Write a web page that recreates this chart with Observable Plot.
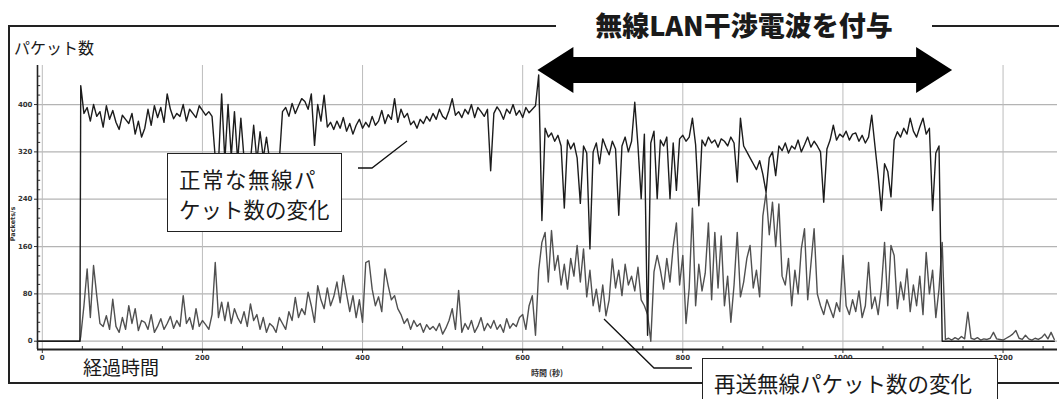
<!DOCTYPE html>
<html><head><meta charset="utf-8">
<script src="https://cdn.jsdelivr.net/npm/d3@7"></script>
<script src="https://cdn.jsdelivr.net/npm/@observablehq/plot@0.6"></script>
<style>
html,body{margin:0;padding:0;background:#fff;}
#wrap{position:relative;width:1059px;height:399px;overflow:hidden;background:#fff;font-family:"Noto Sans CJK JP","Noto Sans",sans-serif;color:#1a1a1a;}
#chart{position:absolute;left:0;top:0;}
.abs{position:absolute;box-sizing:border-box;white-space:nowrap;}
#frame{left:8px;top:25px;width:1100px;height:359px;border:2px solid #222;}
#title{left:556px;top:6px;width:376px;height:38px;background:#fff;text-align:center;font-weight:900;font-size:27px;line-height:38px;}
#ylab{left:14px;top:37px;font-size:16px;line-height:20px;}
#xlab{left:83px;top:355px;font-size:19px;line-height:24px;}
#box1{left:167px;top:153px;width:175px;height:79px;border:1.5px solid #222;background:#fff;font-size:21.5px;line-height:30px;padding:10px 0 0 11px;}
#box1 .l1{letter-spacing:1.5px;}
#box2{left:702px;top:358px;width:296px;height:60px;border:1.5px solid #222;background:#fff;font-size:21.5px;line-height:30px;padding:9px 0 0 11px;}
#over{position:absolute;left:0;top:0;}
</style></head>
<body>
<div id="wrap">
  <div id="chart"></div>
  <div id="frame" class="abs"></div>
  <svg id="over" width="1059" height="399"></svg>
  <div id="title" class="abs">無線LAN干渉電波を付与</div>
  <div id="ylab" class="abs">パケット数</div>
  <div id="xlab" class="abs">経過時間</div>
  <div id="box1" class="abs"><span class="l1">正常な無線パ</span><br>ケット数の変化</div>
  <div id="box2" class="abs">再送無線パケット数の変化</div>
</div>
<script>
// ---- data ----
const timeStart = 48;      // seconds, first sample after start of traffic
const timeStep = 4;        // seconds between samples
const leadTimes = [-6, 47];          // idle period (both series 0)
const leadValues = [0, 0];
const normalPackets = [
  432,385,395,372,400,380,388,362,398,375,
  390,370,358,382,375,368,385,350,372,345,
  360,392,365,398,378,395,370,418,392,376,
  385,380,400,372,392,385,378,398,390,382,
  388,380,310,300,418,305,400,312,388,305,
  377,308,312,305,365,305,354,310,345,305,
  300,310,305,388,395,380,402,385,398,410,
  405,392,418,331,400,372,416,362,370,358,
  372,360,378,355,368,350,365,375,360,370,
  362,380,365,372,390,368,383,375,410,370,
  392,378,385,366,372,360,375,368,380,372,
  385,375,392,380,375,390,410,382,388,378,
  392,384,400,378,395,388,380,392,288,385,
  396,388,375,392,385,400,382,390,378,395,
  386,392,398,450,204,360,345,352,338,348,
  330,225,340,325,335,310,233,330,318,156,
  320,335,300,342,328,315,338,325,213,330,
  345,320,338,404,330,241,350,10,335,355,
  241,340,330,345,241,335,255,342,348,338,
  345,377,332,229,340,330,345,335,340,328,
  342,338,330,345,335,269,377,330,320,310,
  300,290,305,282,252,310,320,280,330,322,
  335,318,330,325,340,320,332,345,328,338,
  330,320,235,325,340,365,340,350,345,355,
  340,350,352,338,348,335,345,382,330,280,
  221,300,287,244,340,354,345,360,350,377,
  355,345,362,377,350,360,221,318,330,0
];
const normalEnd = [1264, 0];
const retransPackets = [
  8,60,122,40,128,77,30,25,43,20,
  71,25,15,40,20,60,30,55,18,35,
  32,20,45,15,25,38,20,30,42,22,
  35,25,77,30,40,20,55,25,35,28,
  20,45,133,40,66,35,66,30,55,40,
  30,50,25,63,35,45,20,40,15,30,
  25,15,40,30,20,50,35,74,40,55,
  45,83,60,32,94,70,55,90,60,75,
  100,65,111,80,50,77,40,70,32,133,
  136,88,60,75,50,122,94,70,77,55,
  45,30,38,20,35,25,30,15,28,20,
  25,18,30,12,22,35,55,20,86,15,
  30,20,35,15,25,40,18,30,22,35,
  20,28,15,38,22,30,25,40,45,20,
  60,77,10,120,167,184,100,187,120,145,
  95,130,88,140,110,162,100,156,75,120,
  60,88,50,95,43,70,139,90,120,77,
  130,95,110,85,125,70,60,45,0,117,
  145,120,88,140,100,160,200,95,145,30,
  90,225,60,130,85,115,200,70,184,90,
  178,60,110,32,95,184,75,100,140,162,
  90,120,75,212,251,180,235,160,232,110,
  95,140,60,120,80,156,190,70,130,190,
  80,60,45,70,55,40,65,50,145,60,
  45,70,50,85,40,60,133,55,75,45,
  90,167,60,162,145,55,100,70,122,50,
  95,60,110,45,150,80,120,40,88,167,
  3,5,2,6,3,8,4,49,5,3,
  6,2,4,3,5,15,4,3,2,5,
  8,12,18,5,3,10,4,2,5,3,
  6,12,4,15,3
];
const xTickValues = [0, 200, 400, 600, 800, 1000, 1200];
const xMinorValues = [50,100,150,250,300,350,450,500,550,650,700,750,850,900,950,1050,1100,1150,1250];
const yTickValues = [0, 80, 160, 240, 320, 400];
const yMinorValues = [16,32,48,64,96,112,128,144,176,192,208,224,256,272,288,304,336,352,368,384,416,432,448];
const interferencePeriod = [619, 1137];   // 無線LAN干渉電波を付与
const xDomain = [-6, 1268];
const yDomain = [-14, 466];

// ---- build tables ----
const lead = leadTimes.map((t, i) => ({t, v: leadValues[i]}));
const normal = lead.concat(
  normalPackets.map((v, i) => ({t: timeStart + i * timeStep, v})),
  [{t: normalEnd[0], v: normalEnd[1]}]
);
const retrans = lead.concat(
  retransPackets.map((v, i) => ({t: timeStart + i * timeStep, v}))
);

const chart = Plot.plot({
  width: 1059, height: 399,
  marginLeft: 37, marginRight: 2, marginTop: 65, marginBottom: 50,
  style: {background: "transparent", fontSize: "7px", fontWeight: "bold", fontFamily: "DejaVu Sans", color: "#333"},
  x: {domain: xDomain, ticks: xTickValues, tickSize: 4, tickPadding: 2, label: null, tickFormat: d => String(d)},
  y: {domain: yDomain, ticks: yTickValues, tickSize: 3, tickPadding: 2, label: null, tickFormat: d => String(d)},
  marks: [
    Plot.ruleY(yTickValues, {stroke: "#b4b4b4", strokeWidth: 1.2}),
    Plot.ruleX(xTickValues, {stroke: "#bcbcbc", strokeWidth: 1}),
    Plot.line(retrans, {x: "t", y: "v", stroke: "#505050", strokeWidth: 1.4}),
    Plot.line(normal, {x: "t", y: "v", stroke: "#1c1c1c", strokeWidth: 1.4}),
    Plot.ruleX(xMinorValues, {y1: yDomain[0], y2: yDomain[0] + 5, stroke: "#333", strokeWidth: 1}),
    Plot.ruleY(yMinorValues, {x1: xDomain[0], x2: xDomain[0] + 4, stroke: "#333", strokeWidth: 1}),
    Plot.ruleX([xDomain[0]], {stroke: "#222", strokeWidth: 1.6}),
    Plot.ruleY([yDomain[0]], {stroke: "#222", strokeWidth: 2})
  ]
});
document.getElementById("chart").appendChild(chart);

// ---- annotations ----
const sx = chart.scale("x");
const over = d3.select("#over");
const ax1 = sx.apply(interferencePeriod[0]), ax2 = sx.apply(interferencePeriod[1]);
const ay = 70, head = 36, hh = 23, sh = 13;
over.append("polygon")
  .attr("points", [
    [ax1, ay], [ax1 + head, ay - hh], [ax1 + head, ay - sh], [ax2 - head, ay - sh], [ax2 - head, ay - hh],
    [ax2, ay], [ax2 - head, ay + hh], [ax2 - head, ay + sh], [ax1 + head, ay + sh], [ax1 + head, ay + hh]
  ].map(p => p.join(",")).join(" "))
  .attr("fill", "#000");
over.append("polyline").attr("points", "358,168 372,168 407,141")
  .attr("fill", "none").attr("stroke", "#111").attr("stroke-width", 1.3);
over.append("polyline").attr("points", "604,319 654,368 692,368")
  .attr("fill", "none").attr("stroke", "#111").attr("stroke-width", 1.3);
over.append("text").attr("transform", "translate(15,224) rotate(-90)")
  .attr("text-anchor", "middle").attr("font-size", 6.5).attr("font-weight", "bold")
  .attr("font-family", "DejaVu Sans").attr("fill", "#333").text("Packets/s");
over.append("text").attr("x", 547).attr("y", 376)
  .attr("text-anchor", "middle").attr("font-size", 8).attr("font-weight", "bold")
  .attr("font-family", "Noto Sans CJK JP").attr("fill", "#333").text("時間 (秒)");
</script>
</body></html>
